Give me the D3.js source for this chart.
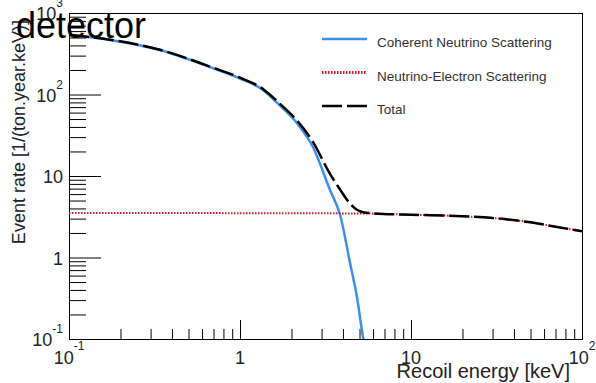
<!DOCTYPE html>
<html>
<head>
<meta charset="utf-8">
<script src="https://cdn.jsdelivr.net/npm/d3@7"></script>
<style>
  body { margin: 0; background: #fff; }
  text { font-family: "Liberation Sans", Arial, sans-serif; }
</style>
</head>
<body>
<div id="chart"></div>
<script>
// recoil energy [keV] / event rate values
const coherentE    = [0.1, 0.174, 0.34, 0.668, 1.0, 1.363, 1.7, 2.15, 2.67, 3.36, 3.85, 4.4, 4.83, 5.24, 5.35];
const coherentRate = [537, 467, 351, 217, 157, 113.5, 74.3, 44.7, 22.7, 6.73, 3.32, 0.857, 0.327, 0.106, 0.085];

const electronE    = [0.1, 1, 5, 10, 20, 30, 50, 70, 100];
const electronRate = [3.52, 3.5, 3.47, 3.35, 3.21, 3.05, 2.7, 2.39, 2.1];

const totalE    = [0.1, 0.174, 0.34, 0.668, 1.0, 1.363, 1.7, 2.15, 2.67, 3.36, 3.85, 4.4, 4.83, 5.24, 6, 10, 20, 30, 50, 70, 100];
const totalRate = [540, 470, 354, 220, 161, 117, 78, 48.2, 26.2, 10.6, 6.8, 4.6, 3.85, 3.6, 3.48, 3.35, 3.21, 3.05, 2.7, 2.39, 2.1];

const xTickLabels = [
  { v: 0.1, base: "10", sup: "-1" },
  { v: 1, base: "1", sup: "" },
  { v: 10, base: "10", sup: "" },
  { v: 100, base: "10", sup: "2" }
];
const yTickLabels = [
  { v: 0.1, base: "10", sup: "-1" },
  { v: 1, base: "1", sup: "" },
  { v: 10, base: "10", sup: "" },
  { v: 100, base: "10", sup: "2" },
  { v: 1000, base: "10", sup: "3" }
];
const legendItems = [
  { label: "Coherent Neutrino Scattering", color: "#3d8fe8", dash: null },
  { label: "Neutrino-Electron Scattering", color: "#e0141e", dash: "1.5,1.5" },
  { label: "Total", color: "#000", dash: "20,5" }
];

const width = 596, height = 383;
const margin = { left: 69, right: 582, top: 13, bottom: 339 };

const svg = d3.select("#chart").append("svg")
  .attr("width", width)
  .attr("height", height);

const x = d3.scaleLog().domain([0.1, 100]).range([margin.left, margin.right]);
const y = d3.scaleLog().domain([0.1, 1000]).range([margin.bottom, margin.top]);

// tick positions
function minorTicks(domain) {
  const out = [];
  for (let d = domain[0]; d < domain[1] * 0.99; d *= 10) {
    for (let m = 2; m <= 9; m++) out.push(d * m);
  }
  return out;
}
const xMajor = [0.1, 1, 10, 100];
const yMajor = [0.1, 1, 10, 100, 1000];

// X axis (ticks pointing inward)
svg.append("g")
  .attr("transform", `translate(0,${margin.bottom})`)
  .call(d3.axisBottom(x).tickValues(minorTicks(x.domain())).tickSize(-10).tickFormat("").tickSizeOuter(0))
  .call(g => g.select(".domain").remove());
svg.append("g")
  .attr("transform", `translate(0,${margin.bottom})`)
  .call(d3.axisBottom(x).tickValues(xMajor).tickSize(-19).tickFormat("").tickSizeOuter(0))
  .call(g => g.select(".domain").remove());

// Y axis
svg.append("g")
  .attr("transform", `translate(${margin.left},0)`)
  .call(d3.axisLeft(y).tickValues(minorTicks(y.domain())).tickSize(-17).tickFormat("").tickSizeOuter(0))
  .call(g => g.select(".domain").remove());
svg.append("g")
  .attr("transform", `translate(${margin.left},0)`)
  .call(d3.axisLeft(y).tickValues(yMajor).tickSize(-32).tickFormat("").tickSizeOuter(0))
  .call(g => g.select(".domain").remove());

svg.selectAll(".tick line").attr("stroke", "#000").attr("stroke-width", 1);

// frame
svg.append("rect")
  .attr("x", margin.left + 0.5).attr("y", margin.top + 0.5)
  .attr("width", margin.right - margin.left).attr("height", margin.bottom - margin.top)
  .attr("fill", "none").attr("stroke", "#000").attr("stroke-width", 1);

// curves
svg.append("clipPath").attr("id", "plot")
  .append("rect").attr("x", margin.left).attr("y", margin.top)
  .attr("width", margin.right - margin.left).attr("height", margin.bottom - margin.top);

const line = d3.line()
  .x(d => x(d[0]))
  .y(d => y(d[1]))
  .curve(d3.curveMonotoneX);

const curves = svg.append("g").attr("clip-path", "url(#plot)");

curves.append("path")
  .attr("d", line(d3.zip(coherentE, coherentRate)))
  .attr("fill", "none").attr("stroke", legendItems[0].color).attr("stroke-width", 2.5);

curves.append("path")
  .attr("d", line(d3.zip(electronE, electronRate)))
  .attr("fill", "none").attr("stroke", legendItems[1].color).attr("stroke-width", 2)
  .attr("stroke-dasharray", legendItems[1].dash);

curves.append("path")
  .attr("d", line(d3.zip(totalE, totalRate)))
  .attr("fill", "none").attr("stroke", "#000").attr("stroke-width", 2.5)
  .attr("stroke-dasharray", legendItems[2].dash);

// tick labels
const xl = svg.append("g").attr("fill", "#222");
xTickLabels.forEach(t => {
  const txt = xl.append("text")
    .attr("x", x(t.v))
    .attr("y", 364)
    .attr("text-anchor", "middle")
    .attr("font-size", 18);
  txt.append("tspan").text(t.base);
  if (t.sup) txt.append("tspan").attr("font-size", 12).attr("dy", -14).text(t.sup);
});

const yl = svg.append("g").attr("fill", "#222");
yTickLabels.forEach(t => {
  const txt = yl.append("text")
    .attr("x", 63)
    .attr("y", y(t.v) + 7)
    .attr("text-anchor", "end")
    .attr("font-size", 18);
  txt.append("tspan").text(t.base);
  if (t.sup) txt.append("tspan").attr("font-size", 12).attr("dy", -13).text(t.sup);
});

// axis titles
svg.append("text")
  .attr("x", 570).attr("y", 378)
  .attr("text-anchor", "end")
  .attr("font-size", 20)
  .attr("fill", "#222")
  .text("Recoil energy [keV]");

svg.append("text")
  .attr("transform", "translate(25,20) rotate(-90)")
  .attr("text-anchor", "end")
  .attr("font-size", 18)
  .attr("fill", "#222")
  .text("Event rate [1/(ton.year.keV)]");

// legend
const legend = svg.append("g").attr("transform", "translate(322,39)");
legendItems.forEach((d, i) => {
  const row = legend.append("g").attr("transform", `translate(0,${i * 33.5})`);
  row.append("line")
    .attr("x1", 0).attr("x2", 45).attr("y1", 0).attr("y2", 0)
    .attr("stroke", d.color).attr("stroke-width", i === 1 ? 3 : 2.5)
    .attr("stroke-dasharray", d.dash);
  row.append("text")
    .attr("x", 55).attr("y", 8)
    .attr("font-size", 13.5)
    .attr("fill", "#333")
    .text(d.label);
});

// title
svg.append("text")
  .attr("x", 16).attr("y", 38)
  .attr("font-size", 36)
  .attr("fill", "#000")
  .text("detector");
</script>
</body>
</html>
